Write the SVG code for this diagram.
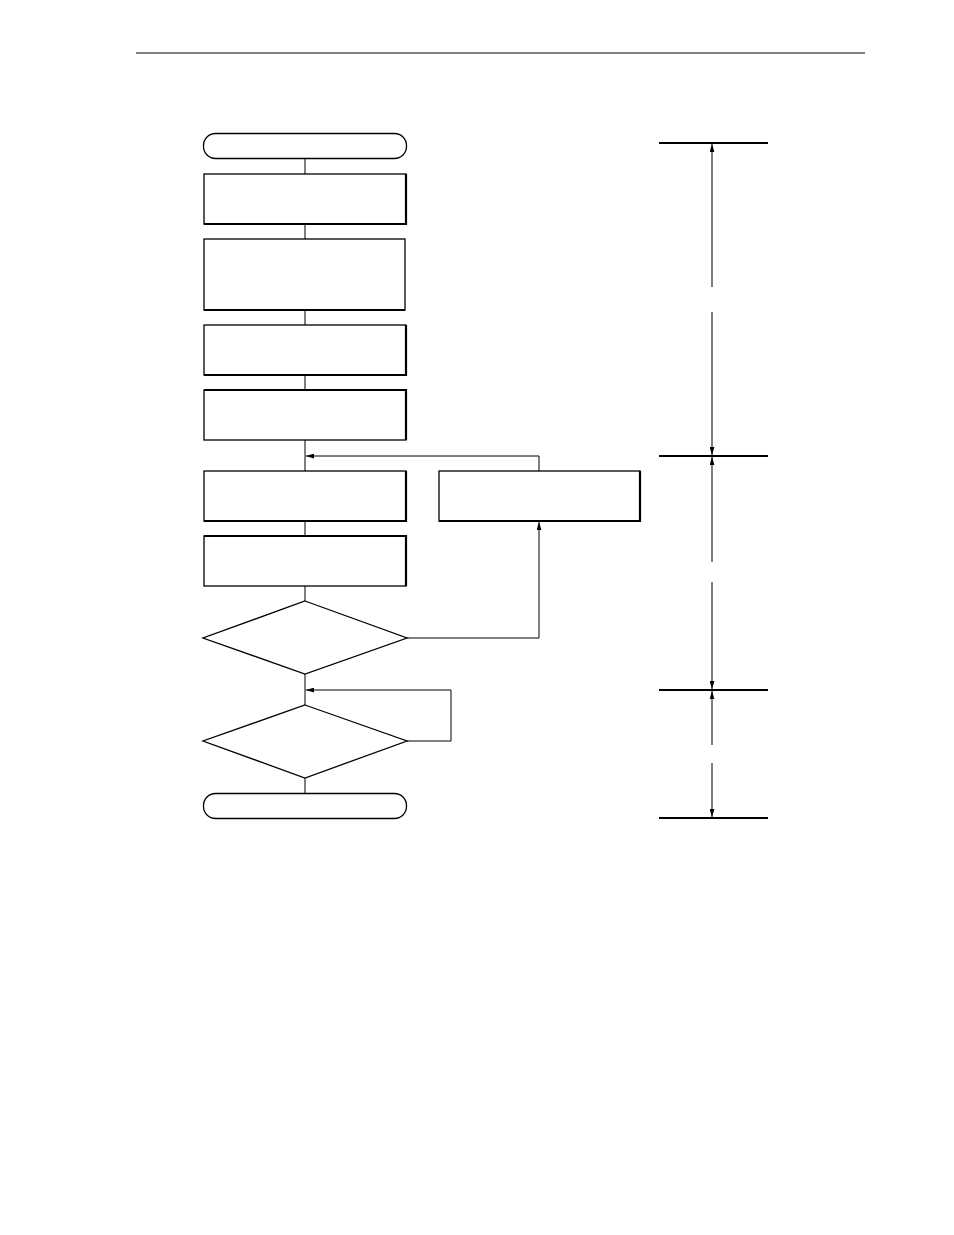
<svg xmlns="http://www.w3.org/2000/svg" width="954" height="1235" viewBox="0 0 954 1235">
<defs>
<marker id="a" viewBox="0 0 10 6" refX="10" refY="3" markerWidth="8" markerHeight="5" orient="auto" markerUnits="userSpaceOnUse"><path d="M0,0 L10,3 L0,6 z" fill="#000"/></marker>
</defs>
<style>
.n{fill:#fff;stroke:#000;stroke-width:1.3}
.s{fill:none;stroke:#000;stroke-width:2.2}
.c{fill:none;stroke:#000;stroke-width:1}
.h{stroke:#000;stroke-width:2}
</style>
<rect width="954" height="1235" fill="#fff"/>
<line x1="136" y1="53" x2="865" y2="53" stroke="#000" stroke-width="1"/>
<g id="connectors">
<line class="c" x1="305" y1="158" x2="305" y2="174"/>
<line class="c" x1="305" y1="224" x2="305" y2="239"/>
<line class="c" x1="305" y1="310" x2="305" y2="325"/>
<line class="c" x1="305" y1="375" x2="305" y2="390"/>
<line class="c" x1="305" y1="440" x2="305" y2="471"/>
<line class="c" x1="305" y1="521" x2="305" y2="536"/>
<line class="c" x1="305" y1="586" x2="305" y2="601"/>
<line class="c" x1="305" y1="674" x2="305" y2="705"/>
<line class="c" x1="305" y1="778" x2="305" y2="793"/>
<polyline class="c" points="539,471 539,456 306,456" marker-end="url(#a)"/>
<polyline class="c" points="407,638 539,638 539,522" marker-end="url(#a)"/>
<polyline class="c" points="407,741 451,741 451,690 306,690" marker-end="url(#a)"/>
</g>
<g id="start"><rect class="n" x="203.5" y="133.5" width="203" height="25" rx="12"/></g>
<g id="box1"><rect class="n" x="204" y="174" width="202" height="50"/><polyline class="s" points="406,174 406,224 204,224"/></g>
<g id="box2"><rect class="n" x="204" y="239" width="201" height="71"/><polyline class="s" points="204,310 405,310"/></g>
<g id="box3"><rect class="n" x="204" y="325" width="202" height="50"/><polyline class="s" points="406,325 406,375 204,375"/></g>
<g id="box4"><rect class="n" x="204" y="390" width="202" height="50"/><polyline class="s" points="204,390 406,390 406,440"/></g>
<g id="box5"><rect class="n" x="204" y="471" width="202" height="50"/><polyline class="s" points="406,471 406,521 204,521"/></g>
<g id="side"><rect class="n" x="439" y="471" width="201" height="50"/><polyline class="s" points="640,471 640,521 439,521"/></g>
<g id="box6"><rect class="n" x="204" y="536" width="202" height="50"/><polyline class="s" points="204,536 406,536 406,586"/></g>
<g id="d1"><polygon class="n" points="305,601 407,638 305,674 203,638"/></g>
<g id="d2"><polygon class="n" points="305,705 407,741 305,778 203,741"/></g>
<g id="end"><rect class="n" x="203.5" y="793.5" width="203" height="25" rx="12"/></g>
<g id="scale">
<line class="h" x1="659" y1="143" x2="768" y2="143"/>
<line class="h" x1="659" y1="456" x2="768" y2="456"/>
<line class="h" x1="659" y1="690" x2="768" y2="690"/>
<line class="h" x1="659" y1="818" x2="768" y2="818"/>
<line class="c" x1="712" y1="287" x2="712" y2="144" marker-end="url(#a)"/>
<line class="c" x1="712" y1="312" x2="712" y2="455" marker-end="url(#a)"/>
<line class="c" x1="712" y1="562" x2="712" y2="457" marker-end="url(#a)"/>
<line class="c" x1="712" y1="582" x2="712" y2="689" marker-end="url(#a)"/>
<line class="c" x1="712" y1="745" x2="712" y2="691" marker-end="url(#a)"/>
<line class="c" x1="712" y1="763" x2="712" y2="817" marker-end="url(#a)"/>
</g>
</svg>
